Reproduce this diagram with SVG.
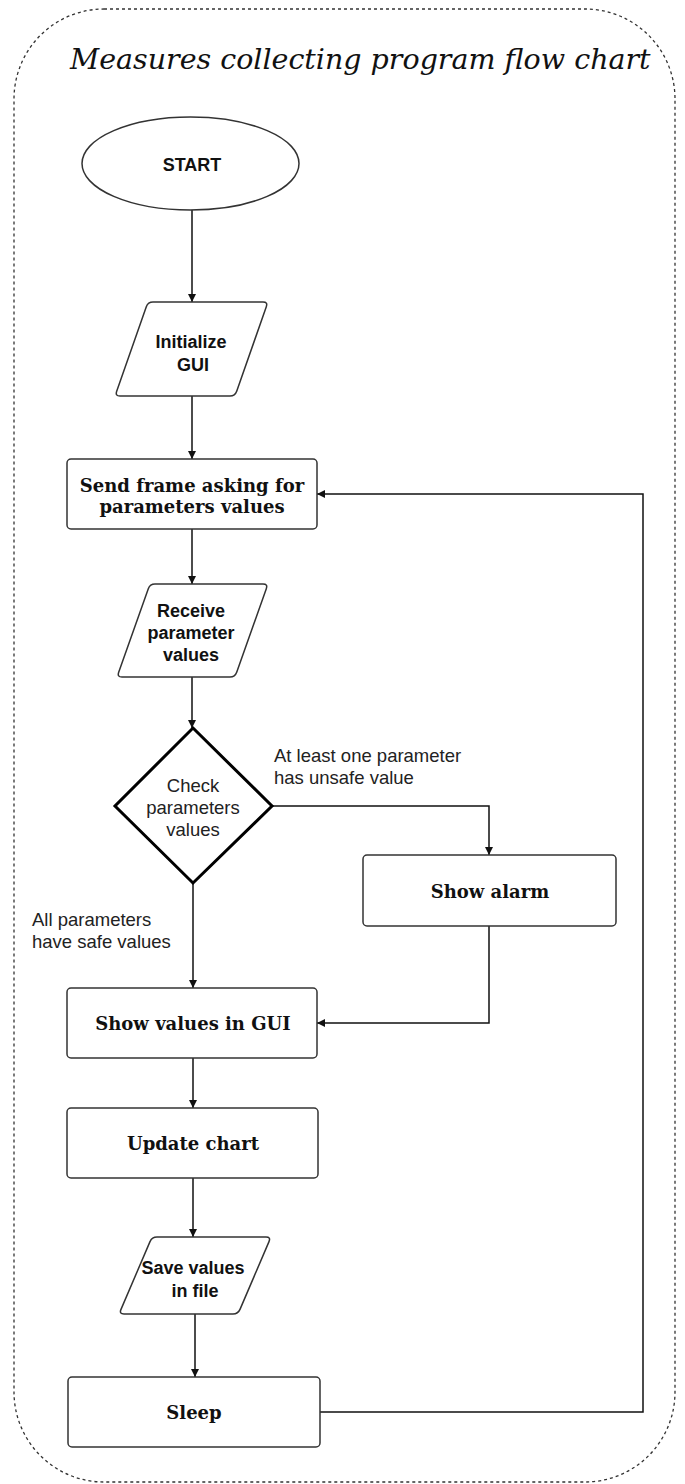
<svg xmlns="http://www.w3.org/2000/svg" width="685" height="1484" viewBox="0 0 685 1484">
<style>
.node{fill:#fff;stroke:#333;stroke-width:1.5}
.dia{fill:#fff;stroke:#000;stroke-width:3;stroke-linejoin:miter}
.edge{fill:none;stroke:#111;stroke-width:1.5}
.sb{font-family:"Liberation Sans",Arial,sans-serif;font-weight:bold;font-size:18px;fill:#111;text-anchor:middle}
.sr{font-family:"Liberation Sans",Arial,sans-serif;font-size:18.5px;fill:#222}
.serb{font-family:"DejaVu Serif",serif;font-weight:bold;font-size:18px;fill:#111;text-anchor:middle}
.title{font-family:"DejaVu Serif",serif;font-style:italic;font-size:28.5px;fill:#111}
</style>
<defs>
<marker id="arr" viewBox="0 0 10 10" refX="10" refY="5" markerWidth="8" markerHeight="8" markerUnits="userSpaceOnUse" orient="auto">
<path d="M0,0 L10,5 L0,10 Z" fill="#111"/>
</marker>
</defs>
<rect id="frame" x="14" y="9" width="661" height="1473" rx="90" ry="90" fill="none" stroke="#333" stroke-width="1.3" stroke-dasharray="3,3"/>
<text class="title" x="70" y="69">Measures collecting program flow chart</text>

<g id="connectors">
<path class="edge" d="M192,210 V302" marker-end="url(#arr)"/>
<path class="edge" d="M192,396 V459" marker-end="url(#arr)"/>
<path class="edge" d="M192,529 V584" marker-end="url(#arr)"/>
<path class="edge" d="M192,677 V728" marker-end="url(#arr)"/>
<path class="edge" d="M272,806 H489 V855" marker-end="url(#arr)"/>
<path class="edge" d="M193,883 V988" marker-end="url(#arr)"/>
<path class="edge" d="M489,926 V1023 H317" marker-end="url(#arr)"/>
<path class="edge" d="M193,1058 V1108" marker-end="url(#arr)"/>
<path class="edge" d="M193,1178 V1237" marker-end="url(#arr)"/>
<path class="edge" d="M195,1314 V1377" marker-end="url(#arr)"/>
<path class="edge" d="M320,1412 H643 V494 H317" marker-end="url(#arr)"/>
<text class="sr" x="274" y="762">At least one parameter</text>
<text class="sr" x="274" y="784">has unsafe value</text>
<text class="sr" x="32" y="926">All parameters</text>
<text class="sr" x="32" y="948">have safe values</text>
</g>

<g id="start">
<ellipse class="node" cx="190.5" cy="163.5" rx="108.5" ry="46.5"/>
<text class="sb" x="192" y="171">START</text>
</g>

<g id="init-gui">
<path class="node" d="M153,302 H263 Q268,302 266.3,306.7 L236.7,391.3 Q235,396 230,396 H120 Q115,396 116.7,391.3 L146.3,306.7 Q148,302 153,302 Z"/>
<text class="sb" x="191" y="348">Initialize</text>
<text class="sb" x="193" y="371">GUI</text>
</g>

<g id="send-frame">
<rect class="node" x="67" y="459" width="250" height="70" rx="4"/>
<text class="serb" x="192" y="492">Send frame asking for</text>
<text class="serb" x="192" y="513">parameters values</text>
</g>

<g id="receive">
<path class="node" d="M155,584 H263 Q268,584 266.3,588.7 L236.7,672.3 Q235,677 230,677 H122 Q117,677 118.7,672.3 L148.3,588.7 Q150,584 155,584 Z"/>
<text class="sb" x="191" y="617">Receive</text>
<text class="sb" x="191" y="639">parameter</text>
<text class="sb" x="191" y="661">values</text>
</g>

<g id="check">
<path class="dia" d="M193,728 L272,806 L193,883 L115,806 Z"/>
<text class="sr" x="193" y="792" text-anchor="middle">Check</text>
<text class="sr" x="193" y="814" text-anchor="middle">parameters</text>
<text class="sr" x="193" y="836" text-anchor="middle">values</text>
</g>

<g id="show-alarm">
<rect class="node" x="363" y="855" width="253" height="71" rx="4"/>
<text class="serb" x="490" y="898">Show alarm</text>
</g>

<g id="show-values">
<rect class="node" x="67" y="988" width="250" height="70" rx="4"/>
<text class="serb" x="193" y="1030">Show values in GUI</text>
</g>

<g id="update-chart">
<rect class="node" x="67" y="1108" width="251" height="70" rx="4"/>
<text class="serb" x="193" y="1150">Update chart</text>
</g>

<g id="save-values">
<path class="node" d="M157,1237 H266 Q271,1237 269,1241.6 L240,1309.4 Q238,1314 233,1314 H124 Q119,1314 121,1309.4 L150,1241.6 Q152,1237 157,1237 Z"/>
<text class="sb" x="193" y="1274">Save values</text>
<text class="sb" x="195" y="1297">in file</text>
</g>

<g id="sleep">
<rect class="node" x="68" y="1377" width="252" height="70" rx="4"/>
<text class="serb" x="194" y="1419">Sleep</text>
</g>
</svg>
